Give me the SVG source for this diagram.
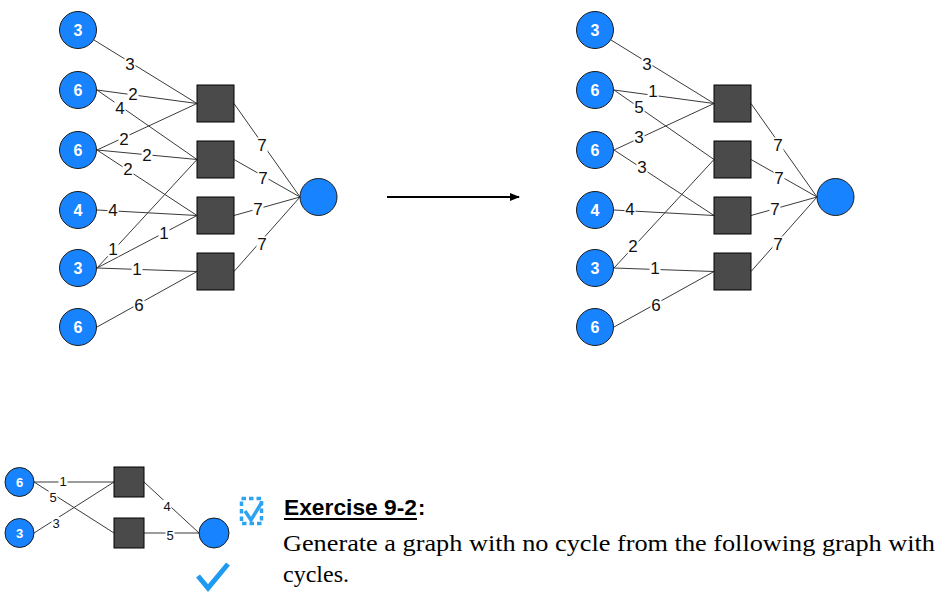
<svg xmlns="http://www.w3.org/2000/svg" width="943" height="597" viewBox="0 0 943 597">
<style>
.e{stroke:#3a3a3a;stroke-width:1;fill:none}
.lb{fill:#fff}
.lt{font-family:"Liberation Sans",Arial,sans-serif;font-size:17px;fill:#111;text-anchor:middle}
.st{font-family:"Liberation Sans",Arial,sans-serif;font-size:13px;fill:#111;text-anchor:middle}
.c{fill:#1883ff;stroke:#1a1a1a;stroke-width:1}
.ct{font-family:"Liberation Sans",Arial,sans-serif;font-weight:bold;font-size:16px;fill:#fff;text-anchor:middle}
.cs{font-family:"Liberation Sans",Arial,sans-serif;font-weight:bold;font-size:13px;fill:#fff;text-anchor:middle}
.s{fill:#4a4a4a;stroke:#000;stroke-width:1}
</style>
<defs>
<marker id="ah" markerWidth="10" markerHeight="8" refX="9" refY="4" orient="auto" markerUnits="userSpaceOnUse">
<path d="M0,0 L10,4 L0,8 Z" fill="#000"/>
</marker>
</defs>

<g id="connectors">
<!-- left graph -->
<line class="e" x1="94" y1="40" x2="197" y2="103.5"/>
<line class="e" x1="97" y1="90" x2="197" y2="103.5"/>
<line class="e" x1="97" y1="90" x2="197" y2="159.5"/>
<line class="e" x1="97" y1="150" x2="197" y2="103.5"/>
<line class="e" x1="97" y1="150" x2="197" y2="159.5"/>
<line class="e" x1="97" y1="150" x2="197" y2="215.5"/>
<line class="e" x1="97" y1="210" x2="197" y2="215.5"/>
<line class="e" x1="97" y1="268" x2="197" y2="159.5"/>
<line class="e" x1="97" y1="268" x2="197" y2="215.5"/>
<line class="e" x1="97" y1="268" x2="197" y2="271.5"/>
<line class="e" x1="97" y1="327" x2="197" y2="271.5"/>
<line class="e" x1="234" y1="103.5" x2="300" y2="197"/>
<line class="e" x1="234" y1="159.5" x2="300" y2="197"/>
<line class="e" x1="234" y1="215.5" x2="300" y2="197"/>
<line class="e" x1="234" y1="271.5" x2="300" y2="197"/>
<!-- right graph -->
<line class="e" x1="611" y1="40" x2="714" y2="103.5"/>
<line class="e" x1="614" y1="90" x2="714" y2="103.5"/>
<line class="e" x1="614" y1="90" x2="714" y2="159.5"/>
<line class="e" x1="614" y1="150" x2="714" y2="103.5"/>
<line class="e" x1="614" y1="150" x2="714" y2="215.5"/>
<line class="e" x1="614" y1="210" x2="714" y2="215.5"/>
<line class="e" x1="614" y1="268" x2="714" y2="159.5"/>
<line class="e" x1="614" y1="268" x2="714" y2="271.5"/>
<line class="e" x1="614" y1="327" x2="714" y2="271.5"/>
<line class="e" x1="751" y1="103.5" x2="817" y2="197"/>
<line class="e" x1="751" y1="159.5" x2="817" y2="197"/>
<line class="e" x1="751" y1="215.5" x2="817" y2="197"/>
<line class="e" x1="751" y1="271.5" x2="817" y2="197"/>
<!-- small graph -->
<line class="e" x1="34" y1="482" x2="114" y2="482"/>
<line class="e" x1="34" y1="482" x2="114" y2="533"/>
<line class="e" x1="34" y1="533" x2="114" y2="482"/>
<line class="e" x1="144" y1="482" x2="199" y2="533"/>
<line class="e" x1="144" y1="533" x2="199" y2="533"/>
<!-- transform arrow -->
<line x1="387" y1="197" x2="519" y2="197" stroke="#000" stroke-width="2" marker-end="url(#ah)"/>

<!-- edge labels left -->
<g>
<rect class="lb" x="124.5" y="56.5" width="11" height="15"/><text class="lt" x="130" y="70">3</text>
<rect class="lb" x="127.5" y="86.5" width="11" height="15"/><text class="lt" x="133" y="100">2</text>
<rect class="lb" x="114.5" y="100.5" width="11" height="15"/><text class="lt" x="120" y="114">4</text>
<rect class="lb" x="118.5" y="131.5" width="11" height="15"/><text class="lt" x="124" y="145">2</text>
<rect class="lb" x="141.5" y="147.5" width="11" height="15"/><text class="lt" x="147" y="161">2</text>
<rect class="lb" x="122.5" y="161.5" width="11" height="15"/><text class="lt" x="128" y="175">2</text>
<rect class="lb" x="107.5" y="202.5" width="11" height="15"/><text class="lt" x="113" y="216">4</text>
<rect class="lb" x="107.5" y="241.5" width="11" height="15"/><text class="lt" x="113" y="255">1</text>
<rect class="lb" x="158.5" y="225.5" width="11" height="15"/><text class="lt" x="164" y="239">1</text>
<rect class="lb" x="131.5" y="261.5" width="11" height="15"/><text class="lt" x="137" y="275">1</text>
<rect class="lb" x="133.5" y="297.5" width="11" height="15"/><text class="lt" x="139" y="311">6</text>
<rect class="lb" x="256.5" y="137.5" width="11" height="15"/><text class="lt" x="262" y="151">7</text>
<rect class="lb" x="257.5" y="170.5" width="11" height="15"/><text class="lt" x="263" y="184">7</text>
<rect class="lb" x="252.5" y="201.5" width="11" height="15"/><text class="lt" x="258" y="215">7</text>
<rect class="lb" x="256.5" y="236.5" width="11" height="15"/><text class="lt" x="262" y="250">7</text>
</g>
<!-- edge labels right -->
<g>
<rect class="lb" x="641.5" y="56.5" width="11" height="15"/><text class="lt" x="647" y="70">3</text>
<rect class="lb" x="647.5" y="83.5" width="11" height="15"/><text class="lt" x="653" y="97">1</text>
<rect class="lb" x="633.5" y="99.5" width="11" height="15"/><text class="lt" x="639" y="113">5</text>
<rect class="lb" x="633.5" y="129.5" width="11" height="15"/><text class="lt" x="639" y="143">3</text>
<rect class="lb" x="636.5" y="159.5" width="11" height="15"/><text class="lt" x="642" y="173">3</text>
<rect class="lb" x="624.5" y="201.5" width="11" height="15"/><text class="lt" x="630" y="215">4</text>
<rect class="lb" x="627.5" y="238.5" width="11" height="15"/><text class="lt" x="633" y="252">2</text>
<rect class="lb" x="649.5" y="260.5" width="11" height="15"/><text class="lt" x="655" y="274">1</text>
<rect class="lb" x="650.5" y="297.5" width="11" height="15"/><text class="lt" x="656" y="311">6</text>
<rect class="lb" x="772.5" y="137.5" width="11" height="15"/><text class="lt" x="778" y="151">7</text>
<rect class="lb" x="773.5" y="170.5" width="11" height="15"/><text class="lt" x="779" y="184">7</text>
<rect class="lb" x="769.5" y="201.5" width="11" height="15"/><text class="lt" x="775" y="215">7</text>
<rect class="lb" x="772.5" y="236.5" width="11" height="15"/><text class="lt" x="778" y="250">7</text>
</g>
<!-- edge labels small -->
<g>
<rect class="lb" x="58.5" y="475" width="9" height="12"/><text class="st" x="63" y="485.5">1</text>
<rect class="lb" x="48.5" y="491" width="9" height="12"/><text class="st" x="53" y="501.5">5</text>
<rect class="lb" x="51.5" y="517" width="9" height="12"/><text class="st" x="56" y="527.5">3</text>
<rect class="lb" x="162.5" y="500" width="9" height="12"/><text class="st" x="167" y="510.5">4</text>
<rect class="lb" x="165.5" y="529" width="9" height="12"/><text class="st" x="170" y="539.5">5</text>
</g>
</g>

<!-- left graph nodes -->
<g id="L-a"><circle class="c" cx="78" cy="30" r="18.5"/><text class="ct" x="78" y="35.8">3</text></g>
<g id="L-b"><circle class="c" cx="78" cy="90" r="18.5"/><text class="ct" x="78" y="95.8">6</text></g>
<g id="L-c"><circle class="c" cx="78" cy="150" r="18.5"/><text class="ct" x="78" y="155.8">6</text></g>
<g id="L-d"><circle class="c" cx="78" cy="210" r="18.5"/><text class="ct" x="78" y="215.8">4</text></g>
<g id="L-e"><circle class="c" cx="78" cy="268" r="18.5"/><text class="ct" x="78" y="273.8">3</text></g>
<g id="L-f"><circle class="c" cx="78" cy="327" r="18.5"/><text class="ct" x="78" y="332.8">6</text></g>
<g id="L-s1"><rect class="s" x="197" y="85" width="37" height="37"/></g>
<g id="L-s2"><rect class="s" x="197" y="141" width="37" height="37"/></g>
<g id="L-s3"><rect class="s" x="197" y="197" width="37" height="37"/></g>
<g id="L-s4"><rect class="s" x="197" y="253" width="37" height="37"/></g>
<g id="L-t"><circle class="c" cx="318.5" cy="197" r="18.5"/></g>

<!-- right graph nodes -->
<g id="R-a"><circle class="c" cx="595" cy="30" r="18.5"/><text class="ct" x="595" y="35.8">3</text></g>
<g id="R-b"><circle class="c" cx="595" cy="90" r="18.5"/><text class="ct" x="595" y="95.8">6</text></g>
<g id="R-c"><circle class="c" cx="595" cy="150" r="18.5"/><text class="ct" x="595" y="155.8">6</text></g>
<g id="R-d"><circle class="c" cx="595" cy="210" r="18.5"/><text class="ct" x="595" y="215.8">4</text></g>
<g id="R-e"><circle class="c" cx="595" cy="268" r="18.5"/><text class="ct" x="595" y="273.8">3</text></g>
<g id="R-f"><circle class="c" cx="595" cy="327" r="18.5"/><text class="ct" x="595" y="332.8">6</text></g>
<g id="R-s1"><rect class="s" x="714" y="85" width="37" height="37"/></g>
<g id="R-s2"><rect class="s" x="714" y="141" width="37" height="37"/></g>
<g id="R-s3"><rect class="s" x="714" y="197" width="37" height="37"/></g>
<g id="R-s4"><rect class="s" x="714" y="253" width="37" height="37"/></g>
<g id="R-t"><circle class="c" cx="835.5" cy="197" r="18.5"/></g>

<!-- small graph nodes -->
<g id="S-a"><circle class="c" cx="19.5" cy="482" r="14.5"/><text class="cs" x="19.5" y="486.7">6</text></g>
<g id="S-b"><circle class="c" cx="19.5" cy="533" r="14.5"/><text class="cs" x="19.5" y="537.7">3</text></g>
<g id="S-s1"><rect class="s" x="114" y="467" width="30" height="30"/></g>
<g id="S-s2"><rect class="s" x="114" y="518" width="30" height="30"/></g>
<g id="S-t"><circle class="c" cx="214" cy="533" r="15"/></g>

<!-- check mark -->
<g id="check"><polyline points="198,576 208,588 228,564" fill="none" stroke="#1e9bf0" stroke-width="5"/></g>

<!-- exercise -->
<g id="exercise">
<rect x="241.5" y="498.5" width="20" height="25" fill="none" stroke="#2ea3f2" stroke-width="3.5" stroke-dasharray="4.5,3"/>
<polyline points="245,511 251,520 262,502" fill="none" stroke="#2ea3f2" stroke-width="3.5"/>
<text x="284" y="515" font-family="'Liberation Sans',Arial,sans-serif" font-weight="bold" font-size="22" fill="#000" textLength="133" lengthAdjust="spacingAndGlyphs">Exercise 9-2</text>
<text x="418" y="515" font-family="'Liberation Sans',Arial,sans-serif" font-weight="bold" font-size="22" fill="#000">:</text>
<line x1="284" y1="519" x2="417" y2="519" stroke="#000" stroke-width="2"/>
<text x="283" y="551" font-family="'Liberation Serif','Times New Roman',serif" font-size="24" fill="#000" textLength="652" lengthAdjust="spacingAndGlyphs">Generate a graph with no cycle from the following graph with</text>
<text x="283" y="582" font-family="'Liberation Serif','Times New Roman',serif" font-size="24" fill="#000">cycles.</text>
</g>
</svg>
